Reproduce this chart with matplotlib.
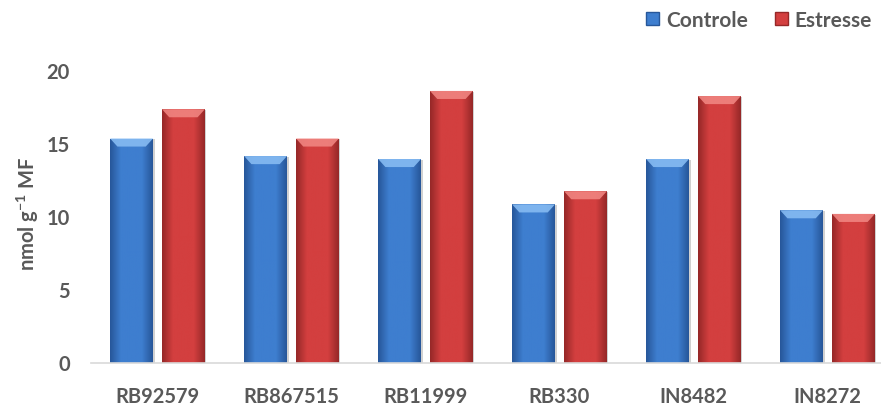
import numpy as np
import matplotlib
matplotlib.use("Agg")
import matplotlib.pyplot as plt
from matplotlib.patches import Polygon, Patch
from matplotlib.colors import LinearSegmentedColormap

cultivares = ["RB92579", "RB867515", "RB11999", "RB330", "IN8482", "IN8272"]
controle = [15.3, 14.1, 13.9, 10.8, 13.9, 10.4]
estresse = [17.3, 15.3, 18.55, 11.7, 18.2, 10.15]
y_ticks = [0, 5, 10, 15, 20]

W, H, DPI = 881, 406, 100
fig = plt.figure(figsize=(W / DPI, H / DPI), dpi=DPI)
fig.patch.set_facecolor("white")

# plot area (extends slightly past the right edge of the canvas)
left_px, right_px = 90.5, 894.5
bottom_px, top_px = 363.5, 70.7
ax = fig.add_axes([left_px / W, (H - bottom_px) / H,
                   (right_px - left_px) / W, (bottom_px - top_px) / H])
ax.set_xlim(-0.5, len(cultivares) - 0.5)
ax.set_ylim(0, 20)

text_color = "#595959"
font = ["Lato", "DejaVu Sans"]
fs = 14.5

series = [
    (controle, -0.1935, "#3E7ECF", "#27579A", "#86BBF2", "Controle"),
    (estresse, 0.1935, "#D33F3F", "#962828", "#F08480", "Estresse"),
]
width = 0.32
x = np.arange(len(cultivares))

for vals, off, base, dark, light, name in series:
    cmap = LinearSegmentedColormap.from_list(name, [dark, base, base, base, dark])
    bars = ax.bar(x + off, vals, width, color=base, edgecolor="none", zorder=2)
    grad = np.linspace(0, 1, 64).reshape(1, -1)
    for b in bars:
        x0, w, h = b.get_x(), b.get_width(), b.get_height()
        # soft drop shadow on the right
        ax.add_patch(plt.Rectangle((x0 + 0.012, 0), w, h - 0.05,
                                   color="#000000", alpha=0.18, lw=0, zorder=1.5))
        im = ax.imshow(grad, cmap=cmap, aspect="auto",
                       extent=(x0, x0 + w, 0, h), zorder=2.1)
        im.set_clip_path(b)
        # bevelled top face
        bh = 0.55
        inset = w * 0.17
        ax.add_patch(Polygon([(x0, h), (x0 + w, h), (x0 + w - inset, h - bh),
                              (x0 + inset, h - bh)],
                             closed=True, facecolor=light, edgecolor="none",
                             alpha=0.9, zorder=2.2))

ax.set_xticks(x)
ax.set_xticklabels(cultivares)
ax.set_yticks(y_ticks)
ax.tick_params(axis="both", length=0, colors=text_color, labelsize=fs)
ax.tick_params(axis="y", pad=15)
ax.tick_params(axis="x", pad=17)
for lab in ax.get_xticklabels() + ax.get_yticklabels():
    lab.set_fontfamily(font)
    lab.set_fontweight("bold")

for s in ["top", "right", "left"]:
    ax.spines[s].set_visible(False)
ax.spines["bottom"].set_color("#D9D9D9")
ax.spines["bottom"].set_linewidth(1.2)

fig.text(28 / W, 1 - 214 / H, r"nmol g$^{\mathregular{-1}}$ MF", rotation=90,
         ha="center", va="center", color=text_color, fontsize=fs,
         fontweight="bold", family=font)

handles = [Patch(facecolor="#3E7ECF", edgecolor="#27579A"),
           Patch(facecolor="#D33F3F", edgecolor="#962828")]
fig.legend(handles, ["Controle", "Estresse"], loc="center right",
           bbox_to_anchor=(891 / W, 1 - 21 / H), ncol=2, frameon=False,
           handlelength=0.6, handleheight=0.6, columnspacing=1.3,
           handletextpad=0.35, prop={"family": font, "weight": "bold", "size": 15},
           labelcolor=text_color)

fig.savefig("out.png", dpi=DPI, facecolor="white")
